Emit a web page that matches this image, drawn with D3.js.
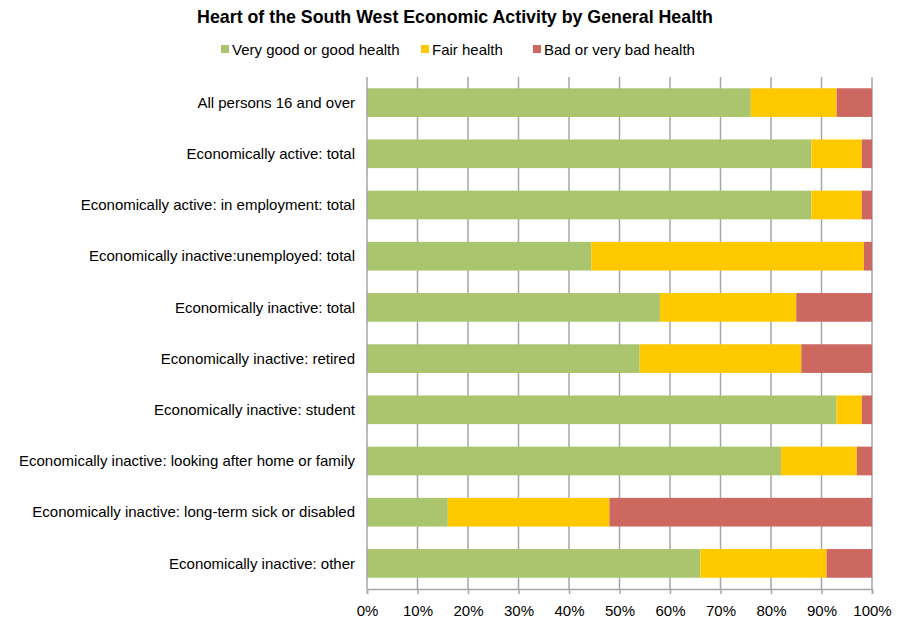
<!DOCTYPE html>
<html><head><meta charset="utf-8">
<script src="https://cdn.jsdelivr.net/npm/d3@7"></script>
<style>body{margin:0;background:#fff;} text{font-family:"Liberation Sans",Arial,sans-serif;}</style>
</head><body>
<svg id="c" width="903" height="621"></svg>
<script>
const categories = [
  "All persons 16 and over",
  "Economically active: total",
  "Economically active: in employment: total",
  "Economically inactive:unemployed: total",
  "Economically inactive: total",
  "Economically inactive: retired",
  "Economically inactive: student",
  "Economically inactive: looking after home or family",
  "Economically inactive: long-term sick or disabled",
  "Economically inactive: other"
];
const seriesNames = ["Very good or good health", "Fair health", "Bad or very bad health"];
const veryGood = [76, 88, 88, 44.4, 58, 54, 93, 82, 16, 66];
const fair     = [17, 10, 10, 54, 27, 32, 5, 15, 32, 25];
const bad      = [7, 2, 2, 1.6, 15, 14, 2, 3, 52, 9];
const tickValues = [0,10,20,30,40,50,60,70,80,90,100];
const colors = ["#ABC56E", "#FFC900", "#CD6861"];

const svg = d3.select("#c");
const m = {left:367, right:872, top:77, bottom:589};
const x = d3.scaleLinear().domain([0,100]).range([m.left, m.right]);
const y = d3.scaleBand().domain(categories).range([m.top, m.bottom]).paddingInner(0.44).paddingOuter(0.22);

const rows = categories.map((c,i)=>({cat:c, "Very good or good health":veryGood[i], "Fair health":fair[i], "Bad or very bad health":bad[i]}));
const stack = d3.stack().keys(seriesNames)(rows);

// gridlines
svg.append("g").selectAll("line").data(tickValues.slice(1)).join("line")
  .attr("x1", d=>x(d)).attr("x2", d=>x(d)).attr("y1", m.top).attr("y2", m.bottom)
  .attr("stroke", "#a6a6a6").attr("stroke-width", 1.5);

// bars
svg.append("g").selectAll("g").data(stack).join("g").attr("fill",(d,i)=>colors[i])
  .selectAll("rect").data(d=>d).join("rect")
  .attr("x", d=>x(d[0])).attr("width", d=>x(d[1])-x(d[0]))
  .attr("y", d=>y(d.data.cat)).attr("height", y.bandwidth());

// left axis line
svg.append("line").attr("x1", m.left).attr("x2", m.left).attr("y1", m.top).attr("y2", m.bottom)
  .attr("stroke","#a6a6a6").attr("stroke-width",1.5);

// bottom axis
const xa = svg.append("g").attr("transform",`translate(0,${m.bottom})`)
  .call(d3.axisBottom(x).tickValues(tickValues).tickFormat(d=>d+"%").tickSize(5).tickPadding(11));
xa.select(".domain").attr("stroke","#a6a6a6").attr("stroke-width",1.5);
xa.selectAll(".tick line").attr("stroke","#a6a6a6").attr("stroke-width",1.5);
xa.selectAll("text").attr("font-size","15px").attr("fill","#000").attr("font-family","Liberation Sans, Arial, sans-serif");

// category labels
svg.append("g").selectAll("text").data(categories).join("text")
  .attr("x", 355).attr("y", d=>y(d)+y.bandwidth()/2).attr("dy","0.35em")
  .attr("text-anchor","end").attr("font-size","15px").attr("fill","#000").text(d=>d);

// title
svg.append("text").attr("x", 455).attr("y", 23).attr("text-anchor","middle")
  .attr("font-size","17.8px").attr("font-weight","bold").text("Heart of the South West Economic Activity by General Health");

// legend
const legX = [221, 421, 533];
const lg = svg.append("g").selectAll("g").data(seriesNames).join("g")
  .attr("transform",(d,i)=>`translate(${legX[i]},50)`);
lg.append("rect").attr("x",0).attr("y",-5).attr("width",8).attr("height",8).attr("fill",(d,i)=>colors[i]);
lg.append("text").attr("x",11).attr("y",0).attr("dy","0.35em").attr("font-size","15px").text(d=>d);
</script>
</body></html>
